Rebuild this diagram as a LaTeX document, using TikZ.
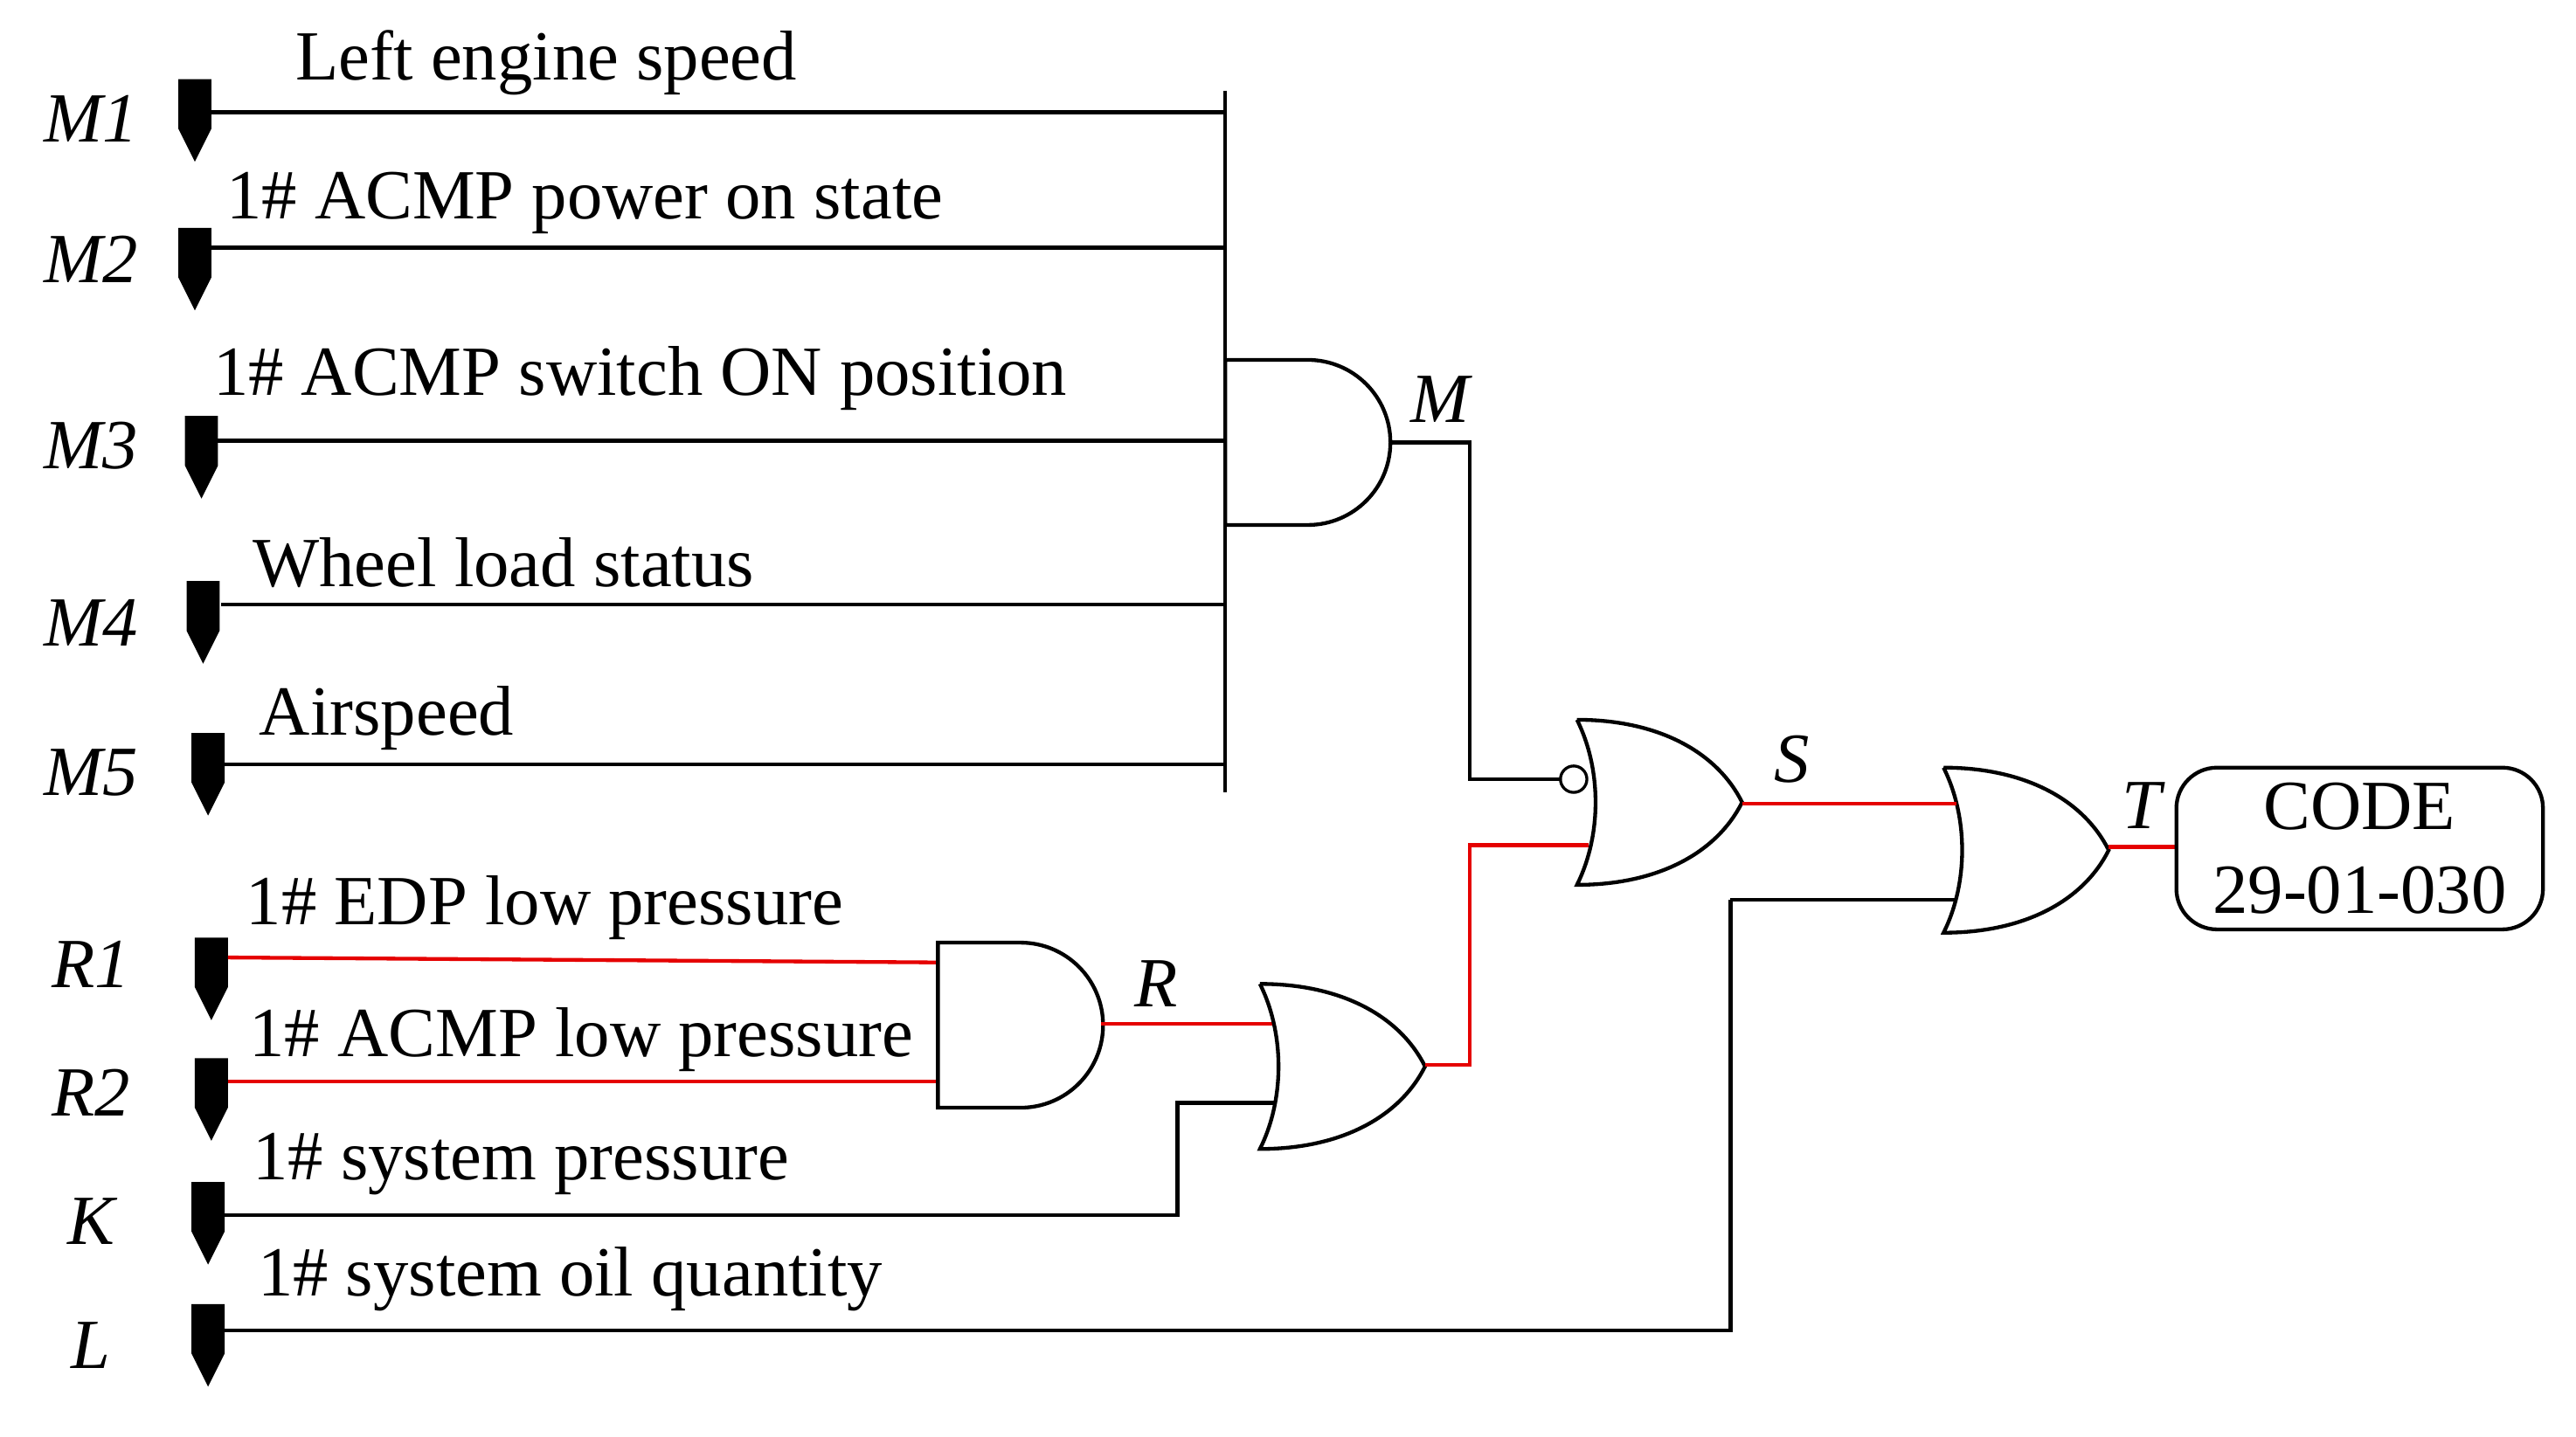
\documentclass[tikz,border=0pt]{standalone}
\usepackage{fontspec}
\setmainfont{Liberation Serif}
\begin{document}
\begin{tikzpicture}[x=0.02cm,y=-0.02cm,line width=1.3pt,
  lbl/.style={anchor=west,inner sep=0pt,font=\fontsize{24.3}{29}\selectfont},
  ilbl/.style={inner sep=0pt,font=\fontsize{24.3}{29}\selectfont\itshape},
  sig/.style={red!90!black},
  conn/.pic={\fill (-10,0)--(10,0)--(10,30)--(0,50)--(-10,30)--cycle;},
  andg/.pic={\draw (0,0)--(50,0) arc[start angle=90,end angle=-90,x radius=50,y radius=-50]--(0,100)--cycle;},
  org/.pic={\draw (0,0) .. controls (50,0) and (85,20) .. (100,50) .. controls (85,80) and (50,100) .. (0,100) .. controls (15,70) and (15,30) .. (0,0);}]
\useasboundingbox (0,0) rectangle (1560,870);
% connectors
\foreach \x/\y/\n/\t in {118/48/M1/72,118/138/M2/157,122/252/M3/270,123/352/M4/377,126/444/M5/468,128/568/R1/584,128/641/R2/662,126/716/K/740,126/790/L/815}
 {\pic at (\x,\y) {conn}; \node[ilbl] (l\n) at (55,\t) {\n};}
% texts
\node[lbl] (t1) at (178,38) {Left engine speed};
\node[lbl] (t2) at (136,123) {1\# ACMP power on state};
\node[lbl] (t3) at (128,229) {1\# ACMP switch ON position};
\node[lbl] (t4) at (152,341) {Wheel load status};
\node[lbl] (t5) at (156,435) {Airspeed};
\node[lbl] (t6) at (148,550) {1\# EDP low pressure};
\node[lbl] (t7) at (150,630) {1\# ACMP low pressure};
\node[lbl] (t8) at (152,705) {1\# system pressure};
\node[lbl] (t9) at (155,775) {1\# system oil quantity};
% M bus
\draw (128,68)--(742,68);
\draw (128,150)--(742,150);
\draw (132,267)--(742,267);
\draw (134,366)--(742,366);
\draw (136,463)--(742,463);
\draw (742,55)--(742,480);
\pic at (742,218) {andg};
\node[ilbl] (lM) at (872,242) {M};
\coordinate (mo) at (842,268);
\draw (mo)--(890,268)--(890,472)--(945,472);
\draw[fill=white,line width=1pt] (953,472) circle (8);
% gate S
\pic at (955,436) {org};
\node[ilbl] (lS) at (1085,460) {S};
% gate T
\pic at (1177,465) {org};
\node[ilbl] (lT) at (1297,488) {T};
\draw[sig] (1055,487)--(1185,487);
\draw (1048,545)--(1185,545);
\draw (1048,545)--(1048,806)--(136,806);
\draw[sig] (1277,513)--(1318,513);
\node[draw,rounded corners=14pt,minimum width=222*0.02cm,minimum height=98*0.02cm,align=center,inner sep=0pt,font=\fontsize{24.3}{29}\selectfont] (code) at (1429,514) {CODE\\29-01-030};
% gate R
\draw[sig] (138,580)--(568,583);
\draw[sig] (138,655)--(568,655);
\pic at (568,571) {andg};
\node[ilbl] (lR) at (700,596) {R};
\draw[sig] (667,620)--(772,620);
\pic at (763,596) {org};
\draw (136,736)--(713,736)--(713,668)--(772,668);
\draw[sig] (863,645)--(890,645)--(890,512)--(962,512);
\end{tikzpicture}
\end{document}
